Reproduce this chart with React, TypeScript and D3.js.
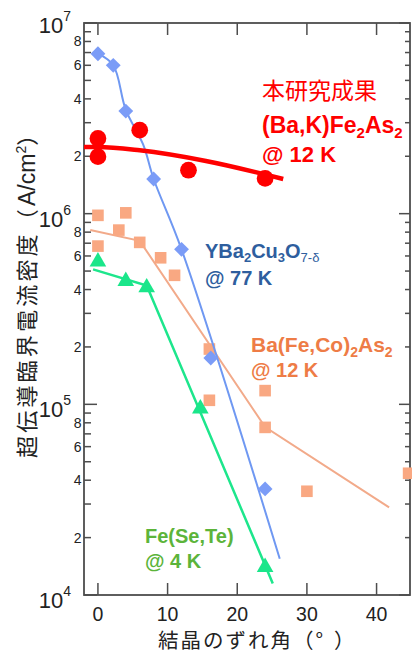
import React from 'react';
import * as d3 from 'd3';

// misorientation angle (deg) vs critical current density (A/cm2)
const ybcoAngle = [0, 2.2, 4, 8, 12, 16.2, 24];
const ybcoJc = [6.9e6, 6.0e6, 3.45e6, 1.52e6, 6.5e5, 1.75e5, 3.6e4];
const ybcoFitAngle = [0, 2.2, 4, 6.5, 8, 12, 26.1];
const ybcoFitJc = [6.9e6, 6.0e6, 3.5e6, 2.3e6, 1.52e6, 6.5e5, 1.55e4];

const bakAngle = [0, 0, 6, 13, 24];
const bakJc = [2.48e6, 1.99e6, 2.74e6, 1.69e6, 1.53e6];
const bakFitAngle = [-2, 0, 6, 15.5, 26.6];
const bakFitJc = [2.24e6, 2.24e6, 2.15e6, 1.89e6, 1.52e6];

const bfcAngle = [0, 4, 3, 0, 6, 9, 11, 16, 16, 24, 24, 30, 44.6];
const bfcJc = [9.8e5, 1.01e6, 8.2e5, 6.76e5, 7.07e5, 5.87e5, 4.75e5, 1.95e5, 1.05e5, 1.18e5, 7.57e4, 3.5e4, 4.35e4];
const bfcFitAngle = [-1.1, 6, 24, 41.8];
const bfcFitJc = [8.2e5, 7.2e5, 7.6e4, 2.88e4];

const fstAngle = [0, 4, 7, 14.7, 24];
const fstJc = [5.6e5, 4.43e5, 4.1e5, 9.5e4, 1.4e4];
const fstFitAngle = [-0.7, 7, 25.1];
const fstFitJc = [5.1e5, 4.2e5, 1.15e4];

const xTicks = [0, 10, 20, 30, 40];
const decades = [4, 5, 6, 7];
const minorMults = [2, 3, 4, 5, 6, 7, 8, 9];
const minorLabels = [2, 4, 6, 8];

const W = 412;
const H = 653;
const left = 84, right = 410, top = 23, bottom = 595;
const latin = '"Liberation Sans", Arial, sans-serif';
const cjk = '"Noto Sans CJK JP", "Noto Sans", sans-serif';
const axisColor = '#4d4d4d';

export default function App() {
  const x = d3.scaleLinear().domain([-2, 44.8]).range([left, right]);
  const y = d3.scaleLog().domain([1e4, 1e7]).range([bottom, top]);

  const line = (xs: number[], ys: number[], curve: d3.CurveFactory) =>
    d3.line<number>()
      .x((d, i) => x(xs[i]))
      .y(d => y(d))
      .curve(curve)(ys) || '';

  const diamond = d3.symbol().type(d3.symbolSquare).size(110)() || '';
  const orangeSq = d3.symbol().type(d3.symbolSquare).size(135)() || '';
  const circle = d3.symbol().type(d3.symbolCircle).size(220)() || '';
  const tri = d3.symbol().type(d3.symbolTriangle).size(120)() || '';

  const minorVals = decades.slice(0, 3).flatMap(k => minorMults.map(m => m * Math.pow(10, k)));

  return (
    <svg width={W} height={H} style={{ position: 'absolute', left: 0, top: 0, background: '#fff' }}>
      {/* frame */}
      <rect x={left} y={top} width={right - left} height={bottom - top}
        fill="none" stroke={axisColor} strokeWidth={1.8} />

      {/* x ticks, top and bottom, inward */}
      {xTicks.map(t => (
        <g key={'xt' + t}>
          <line x1={x(t)} x2={x(t)} y1={bottom} y2={bottom - 12} stroke={axisColor} strokeWidth={1.5} />
          <line x1={x(t)} x2={x(t)} y1={top} y2={top + 12} stroke={axisColor} strokeWidth={1.5} />
          <text x={x(t)} y={621} textAnchor="middle" fontFamily={latin} fontSize={19.5} fill="#222">{t}</text>
        </g>
      ))}

      {/* y minor ticks */}
      {minorVals.map(v => (
        <g key={'ym' + v}>
          <line x1={left} x2={left + 7} y1={y(v)} y2={y(v)} stroke={axisColor} strokeWidth={1.5} />
          <line x1={right} x2={right - 5} y1={y(v)} y2={y(v)} stroke={axisColor} strokeWidth={1.5} />
        </g>
      ))}
      {decades.slice(0, 3).flatMap(k => minorLabels.map(m => (
        <text key={'yl' + k + m} x={81.5} y={y(m * Math.pow(10, k)) + 5} textAnchor="end"
          fontFamily={latin} fontSize={14} fill="#222">{m}</text>
      )))}

      {/* y major ticks and labels */}
      {decades.map(k => (
        <g key={'yM' + k}>
          <line x1={left} x2={left + 13} y1={y(Math.pow(10, k))} y2={y(Math.pow(10, k))} stroke={axisColor} strokeWidth={1.5} />
          <line x1={right} x2={right - 11} y1={y(Math.pow(10, k))} y2={y(Math.pow(10, k))} stroke={axisColor} strokeWidth={1.5} />
          <text x={71} y={y(Math.pow(10, k)) + (k === 7 ? 10 : 13)} textAnchor="end" fontFamily={latin} fontSize={22} fill="#222">
            10<tspan fontSize={14} dy={-12}>{k}</tspan>
          </text>
        </g>
      ))}

      {/* axis titles */}
      <text x={158} y={648} fontFamily={cjk} fontSize={20.5} letterSpacing={2} fill="#222">結晶のずれ角（°&#8196;）</text>
      <text transform="translate(35,458) rotate(-90)" fontFamily={cjk} fontSize={22} fill="#222">
        <tspan letterSpacing={3.2}>超伝導臨界電流密度（</tspan><tspan fontFamily={latin} fontSize={23}>A/cm</tspan><tspan fontFamily={latin} fontSize={14} dy={-9}>2</tspan><tspan dy={9}>）</tspan>
      </text>

      {/* Ba(Fe,Co)2As2 */}
      <path d={line(bfcFitAngle, bfcFitJc, d3.curveLinear)} fill="none" stroke="#f2aa8a" strokeWidth={2} />
      {bfcJc.map((v, i) => (
        <path key={'bfc' + i} d={orangeSq} transform={`translate(${x(bfcAngle[i])},${y(v)})`} fill="#f9a882" />
      ))}

      {/* Fe(Se,Te) */}
      <path d={line(fstFitAngle, fstFitJc, d3.curveLinear)} fill="none" stroke="#1de68c" strokeWidth={2.5} />
      {fstJc.map((v, i) => (
        <path key={'fst' + i} d={tri} transform={`translate(${x(fstAngle[i])},${y(v)})`} fill="#1ae68a" />
      ))}

      {/* YBCO */}
      <path d={line(ybcoFitAngle, ybcoFitJc, d3.curveCatmullRom)} fill="none" stroke="#6f98f2" strokeWidth={2} />
      {ybcoJc.map((v, i) => (
        <path key={'yb' + i} d={diamond} transform={`translate(${x(ybcoAngle[i])},${y(v)}) rotate(45)`} fill="#7b9cf7" />
      ))}

      {/* (Ba,K)Fe2As2 */}
      <path d={line(bakFitAngle, bakFitJc, d3.curveMonotoneX)} fill="none" stroke="#ff0000" strokeWidth={4.5} />
      {bakJc.map((v, i) => (
        <path key={'bak' + i} d={circle} transform={`translate(${x(bakAngle[i])},${y(v)})`} fill="#ff0000" />
      ))}

      {/* annotations */}
      <g fill="#ff0000" fontFamily={latin} fontWeight="bold">
        <text x={262} y={99} fontFamily={cjk} fontWeight="normal" fontSize={23}>本研究成果</text>
        <text x={262} y={133} fontSize={23}>
          (Ba,K)Fe<tspan fontSize={15} dy={5}>2</tspan><tspan dy={-5}>As</tspan><tspan fontSize={15} dy={5}>2</tspan>
        </text>
        <text x={262} y={162} fontSize={22}>@ 12 K</text>
      </g>
      <g fill="#2e5e9e" fontFamily={latin} fontWeight="bold">
        <text x={205} y={258} fontSize={20}>
          YBa<tspan fontSize={13} dy={4}>2</tspan><tspan dy={-4}>Cu</tspan><tspan fontSize={13} dy={4}>3</tspan><tspan dy={-4}>O</tspan><tspan fontSize={13} dy={4} fontWeight="normal">7-δ</tspan>
        </text>
        <text x={205} y={285} fontSize={20}>@ 77 K</text>
      </g>
      <g fill="#ee7c46" fontFamily={latin} fontWeight="bold">
        <text x={251} y={352} fontSize={21}>
          Ba(Fe,Co)<tspan fontSize={14} dy={5}>2</tspan><tspan dy={-5}>As</tspan><tspan fontSize={14} dy={5}>2</tspan>
        </text>
        <text x={251} y={377} fontSize={20}>@ 12 K</text>
      </g>
      <g fill="#5cb43a" fontFamily={latin} fontWeight="bold">
        <text x={145} y={543} fontSize={20}>Fe(Se,Te)</text>
        <text x={145} y={568} fontSize={20}>@ 4 K</text>
      </g>
    </svg>
  );
}
